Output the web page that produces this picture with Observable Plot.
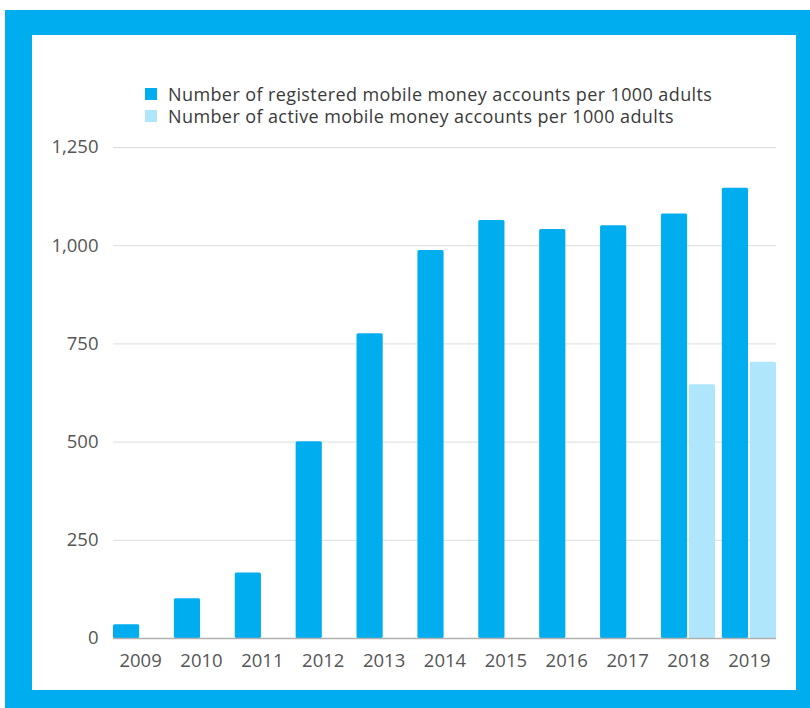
<!DOCTYPE html>
<html>
<head>
<meta charset="utf-8">
<script src="https://cdn.jsdelivr.net/npm/d3@7"></script>
<script src="https://cdn.jsdelivr.net/npm/@observablehq/plot@0.6"></script>
<style>
  html, body { margin: 0; padding: 0; background: #fff; width: 810px; height: 708px; overflow: hidden; }
  #frame { position: absolute; left: 5px; top: 10px; width: 805px; height: 698px; background: #00AEEF; }
  #inner { position: absolute; left: 27px; top: 25px; width: 764px; height: 655px; background: #fff; }
  #chart { position: absolute; left: 0; top: 0; }
  .legend { position: absolute; left: 113px; top: 48px; font-family: "Open Sans", sans-serif; font-size: 18px; letter-spacing: 0.4px; color: #3a3a3a; }
  .legend .item { display: flex; align-items: center; white-space: nowrap; height: 22px; line-height: 22px; }
  .legend .sw { width: 12px; height: 12px; margin-right: 11px; flex: none; }
</style>
</head>
<body>
<div id="frame">
  <div id="inner">
    <div id="chart"></div>
    <div class="legend" id="legend"></div>
  </div>
</div>
<script>
const years = ["2009","2010","2011","2012","2013","2014","2015","2016","2017","2018","2019"];
const registered = [35, 101, 167, 501, 776, 988, 1064, 1041, 1051, 1081, 1146];
const active = [null, null, null, null, null, null, null, null, null, 646, 703];
const seriesNames = [
  "Number of registered mobile money accounts per 1000 adults",
  "Number of active mobile money accounts per 1000 adults"
];
const seriesColors = ["#00AEEF", "#B0E6FC"];
const yTicks = [0, 250, 500, 750, 1000, 1250];

const regRows = years.map((y, i) => ({year: y, value: registered[i]}));
const actRows = years.map((y, i) => ({year: y, value: active[i]})).filter(d => d.value != null);

const chart = Plot.plot({
  width: 764,
  height: 655,
  marginTop: 112,
  marginBottom: 52,
  marginLeft: 81,
  marginRight: 20,
  style: {fontFamily: "Open Sans, sans-serif", fontSize: "18.5px", color: "#555", background: "transparent", overflow: "visible"},
  x: {domain: years, paddingInner: 0.11, paddingOuter: 0, round: false, tickSize: 0, tickPadding: 15, label: null},
  y: {domain: [0, 1250], ticks: yTicks, tickFormat: d3.format(","), tickSize: 0, tickPadding: 15, label: null},
  marks: [
    Plot.ruleY(yTicks.filter(t => t > 0), {stroke: "#dcdcdc", strokeWidth: 1}),
    Plot.barY(regRows, {x: "year", y: "value", fill: seriesColors[0], insetRight: 28, rx: 1.5}),
    Plot.barY(actRows, {x: "year", y: "value", fill: seriesColors[1], insetLeft: 28, rx: 1.5}),
    Plot.ruleY([0], {stroke: "#b0b0b0", strokeWidth: 1.5})
  ]
});
document.getElementById("chart").appendChild(chart);

const legend = document.getElementById("legend");
seriesNames.forEach((name, i) => {
  const item = document.createElement("div");
  item.className = "item";
  const sw = document.createElement("span");
  sw.className = "sw";
  sw.style.background = seriesColors[i];
  const t = document.createElement("span");
  t.textContent = name;
  item.appendChild(sw);
  item.appendChild(t);
  legend.appendChild(item);
});
</script>
</body>
</html>
